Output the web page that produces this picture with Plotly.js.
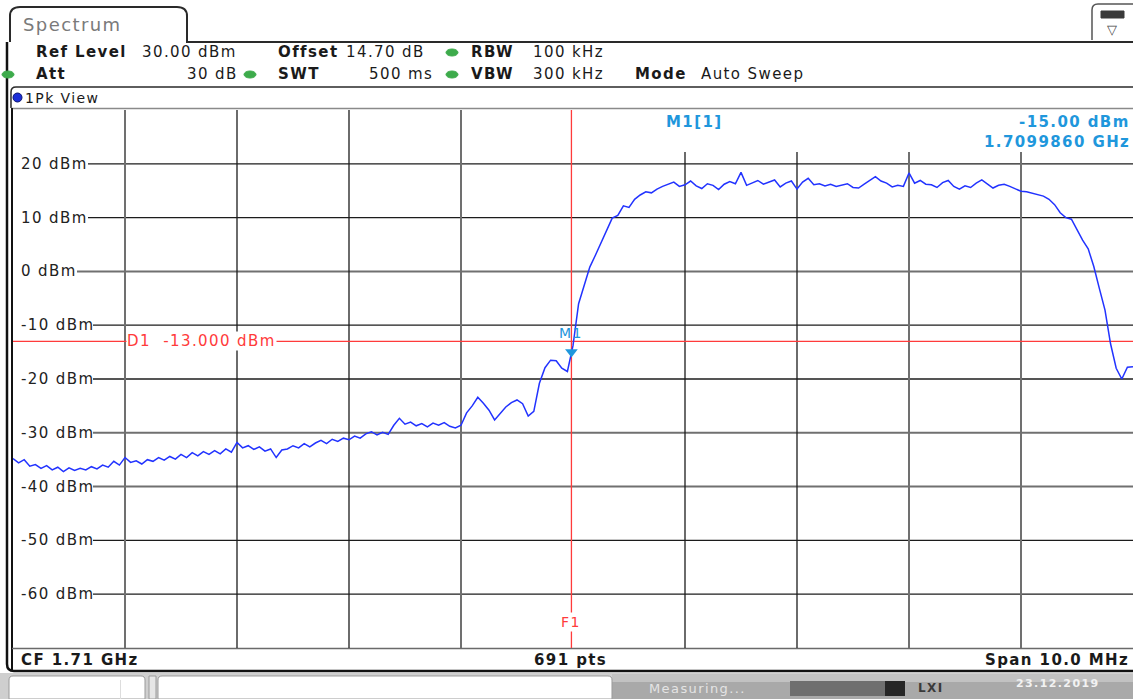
<!DOCTYPE html>
<html>
<head>
<meta charset="utf-8">
<script src="https://cdn.plot.ly/plotly-3.0.1.min.js"></script>
<style>
  html, body { margin: 0; padding: 0; background: #ffffff; }
  #chart { width: 1133px; height: 699px; }
  svg text { letter-spacing: 1.4px; }
</style>
</head>
<body>
<div id="chart"></div>
<script>
// ---------------- data ----------------
const startFreqMHz = 1705.0;      // CF 1.71 GHz - span/2
const stopFreqMHz  = 1715.0;      // CF 1.71 GHz + span/2
const sweepStepMHz = 0.05;        // resolution of the values

// Trace 1 (1Pk View), dBm, one value per sweepStepMHz from 1705.00 MHz to 1715.00 MHz
const levelsDbm = [
  // 1705.00 - 1706.00
  -34.8,-35.6,-35.0,-36.2,-35.9,-36.6,-36.1,-36.9,-36.4,-37.2,-36.5,-37.0,-36.6,-36.9,-36.3,-36.7,-36.0,-36.4,-35.3,-36.0,-34.6,
  // 1706.05 - 1707.00
  -35.5,-35.2,-35.8,-35.0,-35.3,-34.6,-35.1,-34.4,-34.9,-34.0,-34.6,-33.7,-34.3,-33.5,-34.0,-33.3,-33.9,-33.0,-33.6,-31.8,
  // 1707.05 - 1708.00
  -32.8,-32.4,-33.1,-32.6,-33.4,-33.0,-34.6,-33.2,-33.0,-32.4,-32.8,-32.0,-32.6,-31.9,-31.4,-32.0,-31.2,-31.6,-31.0,-31.3,
  // 1708.05 - 1709.00
  -30.6,-31.0,-30.2,-29.8,-30.4,-29.9,-30.3,-28.6,-27.3,-28.4,-28.0,-28.7,-28.3,-28.9,-28.2,-28.6,-28.1,-28.8,-29.1,-28.6,
  // 1709.05 - 1710.00
  -26.3,-25.0,-23.4,-24.5,-25.8,-27.6,-26.4,-25.2,-24.4,-23.9,-24.6,-26.9,-26.0,-20.8,-17.9,-16.5,-16.6,-18.0,-18.6,-13.8,
  // 1710.05 - 1711.00
  -6.0,-2.5,0.8,3.0,5.4,7.6,9.9,10.4,12.2,11.9,13.4,14.2,14.8,14.6,15.3,15.8,16.2,16.6,15.8,16.1,
  // 1711.05 - 1712.00
  16.8,15.9,15.4,16.3,16.0,15.2,16.2,16.7,16.3,18.4,16.0,16.4,16.9,16.2,16.6,17.0,15.7,16.4,16.8,15.3,
  // 1712.05 - 1713.00
  16.6,17.3,16.1,16.3,15.9,16.2,15.8,16.1,16.3,15.6,15.5,16.2,16.9,17.6,16.8,16.4,15.7,16.0,15.8,18.3,
  // 1713.05 - 1714.00
  16.4,16.9,16.2,16.1,15.6,16.5,16.9,15.8,15.3,15.9,15.6,16.4,17.0,16.3,15.5,16.0,16.2,15.8,15.4,14.9,
  // 1714.05 - 1715.00
  14.8,14.5,14.3,14.0,13.4,12.4,10.9,10.0,9.7,7.6,5.8,4.2,0.9,-3.2,-7.2,-13.5,-18.0,-20.0,-17.8,-17.7
];

// axes
const yMinDbm = -70, yMaxDbm = 30;
const yTickVals   = [20, 10, 0, -10, -20, -30, -40, -50, -60];
const yTickLabels = ["20 dBm", "10 dBm", "0 dBm", "-10 dBm", "-20 dBm", "-30 dBm", "-40 dBm", "-50 dBm", "-60 dBm"];
const xGridMHz    = [1706, 1707, 1708, 1709, 1710, 1711, 1712, 1713, 1714];

// marker / display line / frequency line
const markerName    = "M1";
const markerFreqMHz = 1709.986;
const markerLevel   = -15.00;
const markerReadout = ["M1[1]", "-15.00 dBm", "1.7099860 GHz"];
const displayLine   = { name: "D1", level: -13.0, label: "D1  -13.000 dBm" };
const freqLine      = { name: "F1", freqMHz: 1709.986 };

// header / status texts
const headerRow1 = [["Ref Level", "30.00 dBm"], ["Offset", "14.70 dB"], ["RBW", "100 kHz"]];
const headerRow2 = [["Att", "30 dB"], ["SWT", "500 ms"], ["VBW", "300 kHz"], ["Mode", "Auto Sweep"]];
const statusTexts = ["CF 1.71 GHz", "691 pts", "Span 10.0 MHz"];

// ---------------- layout helpers ----------------
const W = 1133, H = 699;
const L = 13, R = 1133, T = 110, B = 648;           // plot area in pixels
const PX = x => (x - L) / (R - L);
const PY = y => (B - y) / (B - T);
const P  = (x, y) => PX(x).toFixed(5) + "," + PY(y).toFixed(5);

const FONT = "DejaVu Sans, Verdana, sans-serif";
const BLUE_TRACE = "#2233ff";
const MARK_BLUE = "#1f97dc";
const RED = "#ff3b3b";

const freqMHz = levelsDbm.map((_, i) => +(startFreqMHz + i * sweepStepMHz).toFixed(3));

const shapes = [];
const annotations = [];

function pline(x0, y0, x1, y1, color, width) {
  shapes.push({ type: "line", xref: "paper", yref: "paper", x0: PX(x0), y0: PY(y0), x1: PX(x1), y1: PY(y1),
                line: { color: color, width: width }, layer: "below" });
}
function prect(x0, y0, x1, y1, fill, lineColor, lw, layer) {
  shapes.push({ type: "rect", xref: "paper", yref: "paper", x0: PX(x0), y0: PY(y0), x1: PX(x1), y1: PY(y1),
                fillcolor: fill, line: { color: lineColor || "rgba(0,0,0,0)", width: lw || 0 }, layer: layer || "below" });
}
function pcircle(x0, y0, x1, y1, fill, lineColor) {
  shapes.push({ type: "circle", xref: "paper", yref: "paper", x0: PX(x0), y0: PY(y0), x1: PX(x1), y1: PY(y1),
                fillcolor: fill, line: { color: lineColor || fill, width: 1 }, layer: "above" });
}
function ptext(x, y, text, o) {
  o = o || {};
  annotations.push({ xref: "paper", yref: "paper", x: PX(x), y: PY(y), text: text, showarrow: false,
                     xanchor: o.anchor || "left", yanchor: "middle",
                     font: { family: FONT, size: o.size || 15, color: o.color || "#1a1a1a", weight: o.bold ? "bold" : "normal" },
                     bgcolor: o.bg || "rgba(0,0,0,0)", borderpad: o.pad || 0 });
}

// ---------------- frame ----------------
// Spectrum tab + top line
shapes.push({ type: "path", xref: "paper", yref: "paper", layer: "below",
  path: "M" + P(10, 42) + " L" + P(10, 16) + " Q" + P(10, 7) + " " + P(20, 7) + " L" + P(177, 7) +
        " Q" + P(187, 7) + " " + P(187, 16) + " L" + P(187, 42) + " L" + P(1133, 42),
  line: { color: "#2a2a2a", width: 2 } });
ptext(22, 24, "Spectrum", { size: 18, color: "#7a7a7a" });

// top-right icon
shapes.push({ type: "path", xref: "paper", yref: "paper", layer: "below",
  path: "M" + P(1092, 40) + " L" + P(1092, 10) + " Q" + P(1092, 4) + " " + P(1098, 4) + " L" + P(1133, 4),
  line: { color: "#555", width: 1.5 } });
prect(1101, 11, 1124, 18, "#3a3a3a", "#3a3a3a", 1, "above");
ptext(1112, 30, "▽", { size: 13, color: "#444", anchor: "center" });

// main box left edge and bottom edge
shapes.push({ type: "path", xref: "paper", yref: "paper", layer: "below",
  path: "M" + P(7, 42) + " L" + P(7, 664) + " Q" + P(7, 671) + " " + P(14, 671) + " L" + P(1133, 671),
  line: { color: "#111", width: 2.5 } });
// 1Pk View box
shapes.push({ type: "path", xref: "paper", yref: "paper", layer: "below",
  path: "M" + P(11, 108) + " L" + P(11, 92) + " Q" + P(11, 87) + " " + P(16, 87) + " L" + P(1133, 87),
  line: { color: "#2a2a2a", width: 1.5 } });
pline(11, 108.5, 1133, 108.5, "#8a8a8a", 1.5);
// left double border of the diagram
pline(12, 108, 12, 671, "#111", 2);
// status bar top line
pline(12, 648.5, 1133, 648.5, "#6a6a6a", 1.5);

// header texts
pcircle(446, 49, 458, 56, "#3dab4b");
pcircle(2, 71, 14, 78, "#3dab4b");
pcircle(244, 71, 256, 78, "#3dab4b");
pcircle(446, 71, 458, 78, "#3dab4b");
ptext(35, 52, headerRow1[0][0], { bold: true });
ptext(141, 52, headerRow1[0][1]);
ptext(277, 52, headerRow1[1][0], { bold: true });
ptext(345, 52, headerRow1[1][1]);
ptext(470, 52, headerRow1[2][0], { bold: true });
ptext(532, 52, headerRow1[2][1]);
ptext(35, 74, headerRow2[0][0], { bold: true });
ptext(239, 74, headerRow2[0][1], { anchor: "right" });
ptext(277, 74, headerRow2[1][0], { bold: true });
ptext(434, 74, headerRow2[1][1], { anchor: "right" });
ptext(470, 74, headerRow2[2][0], { bold: true });
ptext(532, 74, headerRow2[2][1]);
ptext(634, 74, headerRow2[3][0], { bold: true });
ptext(700, 74, headerRow2[3][1]);

// 1Pk View
pcircle(13, 93, 22, 102, "#1c2ed8", "#0a1470");
ptext(24, 98, "1Pk View", { size: 14 });

// status bar
ptext(20, 660, statusTexts[0], { bold: true });
ptext(570, 660, statusTexts[1], { bold: true, anchor: "center" });
ptext(1130, 660, statusTexts[2], { bold: true, anchor: "right" });

// bottom system bar
prect(0, 673, 1133, 699, "#cfcfcf", null, 0);
prect(612, 674, 1133, 699, "#a9a9a9", null, 0);
prect(612, 674, 1133, 682, "#c2c2c2", null, 0);
shapes.push({ type: "path", xref: "paper", yref: "paper", layer: "below",
  path: "M" + P(9, 699) + " L" + P(9, 680) + " Q" + P(9, 676) + " " + P(13, 676) + " L" + P(141, 676) +
        " Q" + P(145, 676) + " " + P(145, 680) + " L" + P(145, 699) + " Z",
  fillcolor: "#ffffff", line: { color: "#9a9a9a", width: 1 } });
prect(120, 680, 121, 699, "#dddddd", null, 0);
prect(149, 676, 156, 699, "#e6e6e6", "#9a9a9a", 1);
shapes.push({ type: "path", xref: "paper", yref: "paper", layer: "below",
  path: "M" + P(158, 699) + " L" + P(158, 680) + " Q" + P(158, 676) + " " + P(162, 676) + " L" + P(608, 676) +
        " Q" + P(612, 676) + " " + P(612, 680) + " L" + P(612, 699) + " Z",
  fillcolor: "#ffffff", line: { color: "#9a9a9a", width: 1 } });
ptext(648, 688, "Measuring...", { size: 13, color: "#e4e4e4" });
prect(790, 681, 885, 696, "#6f6f6f", null, 0);
prect(885, 681, 905, 696, "#262626", null, 0);
ptext(917, 688, "LXI", { size: 12, color: "#3a3a3a", bold: true });
ptext(1015, 683, "23.12.2019", { size: 11, color: "#f2f2f2", bold: true });

// ---------------- grid ----------------
const softX = [1706, 1709, 1713, 1714];
const softY = [0, -30, -40];
const labelEnd = { "20 dBm": 88, "10 dBm": 88, "0 dBm": 77, "-10 dBm": 93, "-20 dBm": 93,
                   "-30 dBm": 93, "-40 dBm": 93, "-50 dBm": 93, "-60 dBm": 93 };
yTickVals.forEach((v, i) => {
  const soft = softY.includes(v);
  shapes.push({ type: "line", xref: "paper", yref: "y", x0: PX(labelEnd[yTickLabels[i]]), x1: 1, y0: v, y1: v,
                line: { color: soft ? "#707070" : "#1c1c1c", width: soft ? 2 : 1.3 }, layer: "below" });
  ptext(20, 0, yTickLabels[i], { color: "#222" });
  annotations[annotations.length - 1].yref = "y";
  annotations[annotations.length - 1].y = v;
});
xGridMHz.forEach(f => {
  if (Math.abs(f - freqLine.freqMHz) < 0.05) return;
  const soft = softX.includes(f);
  const top = f > freqLine.freqMHz ? PY(152) : 1;
  shapes.push({ type: "line", xref: "x", yref: "paper", x0: f, x1: f, y0: 0, y1: top,
                line: { color: soft ? "#707070" : "#1c1c1c", width: soft ? 2 : 1.3 }, layer: "below" });
});

// display line D1
shapes.push({ type: "line", xref: "paper", yref: "y", x0: 0, x1: 1, y0: displayLine.level, y1: displayLine.level,
              line: { color: RED, width: 1.3 }, layer: "below" });
annotations.push({ xref: "paper", yref: "y", x: PX(126), y: displayLine.level, text: displayLine.label, showarrow: false,
                   xanchor: "left", yanchor: "middle", bgcolor: "#ffffff", borderpad: 0,
                   font: { family: FONT, size: 15, color: RED } });
// frequency line F1
shapes.push({ type: "line", xref: "x", yref: "paper", x0: freqLine.freqMHz, x1: freqLine.freqMHz, y0: 0, y1: 1,
              line: { color: RED, width: 1.3 }, layer: "below" });
annotations.push({ xref: "x", yref: "paper", x: freqLine.freqMHz, y: PY(622), text: freqLine.name, showarrow: false,
                   xanchor: "center", yanchor: "middle", bgcolor: "#ffffff", borderpad: 1,
                   font: { family: FONT, size: 14, color: RED } });

// marker readout
ptext(665, 122, markerReadout[0], { bold: true, color: MARK_BLUE });
ptext(1131, 122, markerReadout[1], { bold: true, color: MARK_BLUE, anchor: "right" });
ptext(1131, 142, markerReadout[2], { bold: true, color: MARK_BLUE, anchor: "right" });
annotations.push({ xref: "x", yref: "y", x: markerFreqMHz, y: markerLevel, text: markerName, showarrow: false,
                   xanchor: "center", yanchor: "bottom", yshift: 9,
                   font: { family: FONT, size: 14, color: MARK_BLUE } });

// ---------------- traces ----------------
const traces = [
  { type: "scatter", mode: "lines", x: freqMHz, y: levelsDbm, line: { color: BLUE_TRACE, width: 1.5 },
    hoverinfo: "skip", cliponaxis: true },
  { type: "scatter", mode: "markers", x: [markerFreqMHz], y: [markerLevel],
    marker: { symbol: "triangle-down", size: 11, color: MARK_BLUE }, hoverinfo: "skip" }
];

const layout = {
  width: W, height: H,
  margin: { l: L, r: W - R, t: T, b: H - B, pad: 0 },
  paper_bgcolor: "#ffffff", plot_bgcolor: "#ffffff",
  showlegend: false,
  xaxis: { range: [startFreqMHz, stopFreqMHz], showgrid: false, zeroline: false, showticklabels: false,
           ticks: "", showline: false, fixedrange: true },
  yaxis: { range: [yMinDbm, yMaxDbm], showgrid: false, zeroline: false, showticklabels: false,
           ticks: "", showline: false, fixedrange: true },
  shapes: shapes,
  annotations: annotations
};

Plotly.newPlot("chart", traces, layout, { displayModeBar: false, staticPlot: true });
</script>
</body>
</html>
